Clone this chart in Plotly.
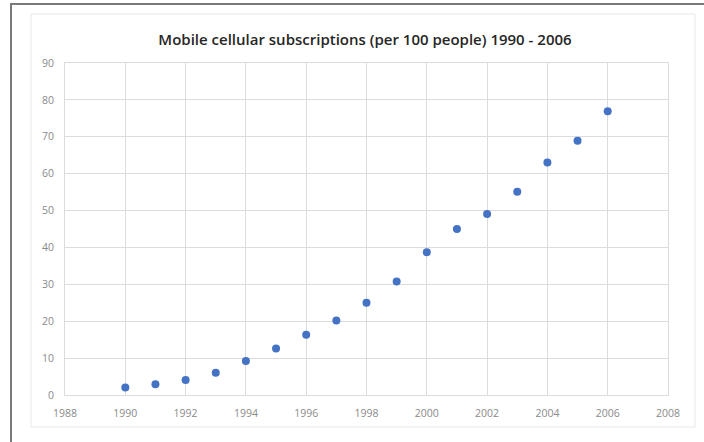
import plotly.graph_objects as go

# Data
years = [1990, 1991, 1992, 1993, 1994, 1995, 1996, 1997, 1998,
         1999, 2000, 2001, 2002, 2003, 2004, 2005, 2006]
subscriptions = [2.0, 2.9, 4.1, 6.0, 9.2, 12.6, 16.3, 20.2, 25.0,
                 30.8, 38.7, 45.0, 49.1, 55.1, 63.0, 68.9, 76.9]

x_ticks = list(range(1988, 2009, 2))
y_ticks = list(range(0, 91, 10))

W, H = 704, 442
L, R, T, B = 65, 36, 63, 47
pw, ph = W - L - R, H - T - B


def px_x(p):
    return (p - L) / pw


def px_y(p):
    return (H - B - p) / ph


fig = go.Figure(go.Scatter(
    x=years,
    y=subscriptions,
    mode="markers",
    marker=dict(color="#4472C4", size=8),
    hoverinfo="x+y",
))

axis_common = dict(
    showgrid=True,
    gridcolor="#dcdcdc",
    gridwidth=1,
    zeroline=False,
    showline=True,
    linecolor="#dcdcdc",
    ticks="",
    tickfont=dict(family="Open Sans", size=10.5, color="#8a8a8a"),
    fixedrange=True,
)

fig.update_xaxes(range=[1988, 2008], tickvals=x_ticks, mirror=True,
                 ticklabelstandoff=8, **axis_common)
fig.update_yaxes(range=[0, 90], tickvals=y_ticks, mirror=True,
                 ticklabelstandoff=8, **axis_common)

fig.update_layout(
    width=W,
    height=H,
    margin=dict(l=L, r=R, t=T, b=B),
    paper_bgcolor="white",
    plot_bgcolor="white",
    showlegend=False,
    title=dict(
        text="Mobile cellular subscriptions (per 100 people) 1990 - 2006",
        x=365 / W,
        xanchor="center",
        y=1 - 40 / H,
        yanchor="middle",
        font=dict(family="Open Sans", size=15, color="#262626", weight=600),
    ),
    shapes=[
        # faint chart-area border
        dict(type="rect", xref="paper", yref="paper",
             x0=px_x(31), x1=px_x(695), y0=px_y(427), y1=px_y(14),
             line=dict(color="#e8e8e8", width=1), layer="below"),
        # dark outer frame lines (top and left)
        dict(type="line", xref="paper", yref="paper",
             x0=px_x(10), x1=px_x(704), y0=px_y(4), y1=px_y(4),
             line=dict(color="#7a7a7a", width=2)),
        dict(type="line", xref="paper", yref="paper",
             x0=px_x(11), x1=px_x(11), y0=px_y(4), y1=px_y(442),
             line=dict(color="#7a7a7a", width=2)),
    ],
)

fig.write_html(
    "out.html",
    config={"displayModeBar": False},
    post_script="document.body.style.margin='0';document.body.style.overflow='hidden';",
)
